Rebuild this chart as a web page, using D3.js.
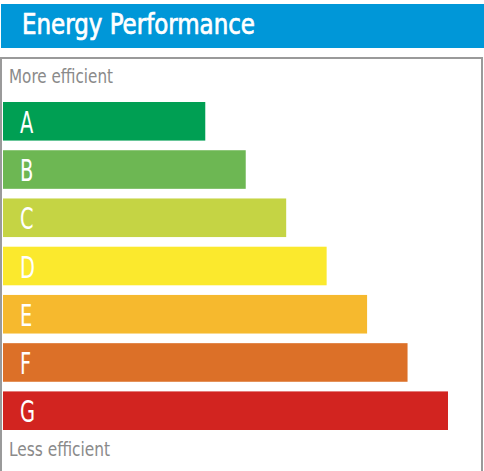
<!DOCTYPE html>
<html><head><meta charset="utf-8">
<script src="https://d3js.org/d3.v7.min.js"></script>
<style>html,body{margin:0;padding:0;background:#fff;}svg{display:block;}</style>
</head><body>
<script>
const title = "Energy Performance";
const categories = ["A","B","C","D","E","F","G"];
const values = [5,6,7,8,9,10,11];
const colors = ["#009f53","#6db753","#c5d444","#fbe92d","#f6b92e","#dc7028","#d22420"];
const topLabel = "More efficient";
const bottomLabel = "Less efficient";

const W = 484, H = 471;
const svg = d3.select("body").append("svg").attr("width", W).attr("height", H);
const font = "'Liberation Sans Narrow','DejaVu Sans Condensed',sans-serif";

// header
svg.append("rect").attr("x",1).attr("y",4).attr("width",483).attr("height",44).attr("fill","#0097d8");
svg.append("text").attr("x",22).attr("y",34).attr("fill","#fff")
  .attr("stroke","#fff").attr("stroke-width",0.7)
  .attr("font-family",font).attr("font-size",28).attr("font-weight","normal")
  .attr("textLength",233).attr("lengthAdjust","spacingAndGlyphs").text(title);

// frame
svg.append("rect").attr("x",1).attr("y",58).attr("width",481).attr("height",430)
  .attr("fill","none").attr("stroke","#9a9a9a").attr("stroke-width",2);

const x = d3.scaleLinear().domain([0,11]).range([0,445]);
const y = d3.scaleBand().domain(categories).range([102, 430]).paddingInner(0.2).paddingOuter(0);

const g = svg.append("g");
g.selectAll("rect.bar").data(categories).join("rect").attr("class","bar")
  .attr("x",3).attr("y",d=>y(d)).attr("height",y.bandwidth())
  .attr("width",(d,i)=>x(values[i])).attr("fill",(d,i)=>colors[i]);
g.selectAll("text.lbl").data(categories).join("text").attr("class","lbl")
  .attr("transform",d=>`translate(20,${y(d)+31}) scale(0.72,1)`).attr("fill","#fff")
  .attr("font-family",font).attr("font-size",30).text(d=>d);

svg.append("text").attr("x",9).attr("y",83).attr("fill","#8a8a8a")
  .attr("font-family",font).attr("font-size",19)
  .attr("textLength",104).attr("lengthAdjust","spacingAndGlyphs").text(topLabel);
svg.append("text").attr("x",9).attr("y",456).attr("fill","#8a8a8a")
  .attr("font-family",font).attr("font-size",19)
  .attr("textLength",101).attr("lengthAdjust","spacingAndGlyphs").text(bottomLabel);
</script>
</body></html>
